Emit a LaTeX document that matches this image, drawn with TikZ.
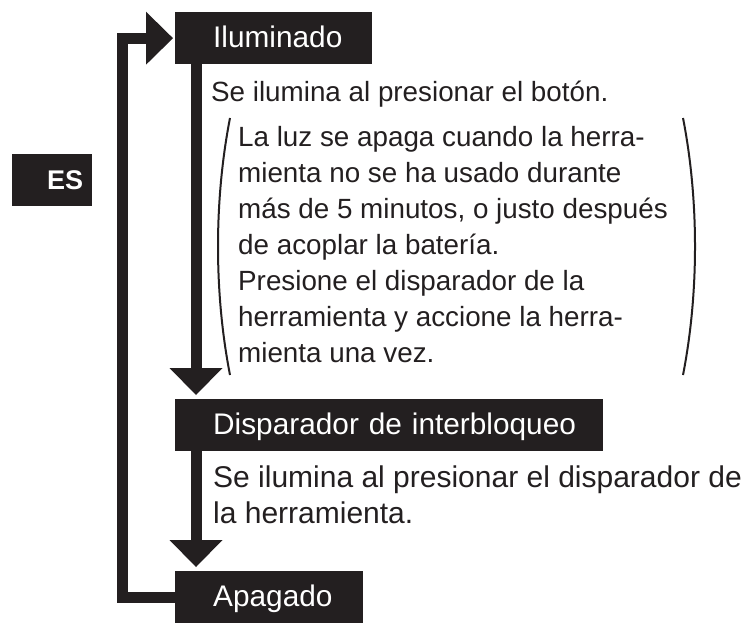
\documentclass[tikz,border=0pt]{standalone}
\usepackage{fontspec}
\setmainfont{Liberation Sans}
\usetikzlibrary{arrows.meta}
\definecolor{tinta}{HTML}{231F20}

\begin{document}
\begin{tikzpicture}[x=1pt,y=-1pt,
  caja/.style={fill=tinta,text=white,anchor=north west,inner sep=0pt,
    minimum height=52pt,text height=21pt,text depth=2pt,text width=#1,
    align=left,font=\fontsize{29.8}{36}\selectfont},
  texto/.style={inner sep=0pt,text=tinta,align=left,
    font=\fontsize{27.8}{36}\selectfont},
  flecha/.style={line width=11pt,draw=tinta,
    -{Triangle[length=27pt,width=53pt,line width=0pt]}},
  paren/.style={line width=2pt,draw=tinta}]
\useasboundingbox (0,0) rectangle (743,623);
\node [caja=80pt,align=right,font=\fontsize{27}{30}\selectfont\bfseries] (es) at (12,154) {ES\hspace*{9pt}};
\node [caja=197pt] (ilum) at (175,12) {\hspace*{38pt}Iluminado};
\node [caja=428pt] (disp) at (175,399) {\hspace*{38pt}Disparador de interbloqueo};
\node [caja=188pt] (apag) at (175,571) {\hspace*{38pt}Apagado};
\node [texto,anchor=base west] (ilumtxt) at (211,102) {Se ilumina al presionar el botón.};
\node [texto,anchor=north west] (nota) at (238,126) {La luz se apaga cuando la herra-\\mienta no se ha usado durante\\más de 5 minutos, o justo después\\de acoplar la batería.\\Presione el disparador de la\\herramienta y accione la herra-\\mienta una vez.};
\node [texto,anchor=north west,font=\fontsize{30}{36}\selectfont] (disptxt) at (213,466) {Se ilumina al presionar el disparador de\\la herramienta.};
\draw [paren] (230,118) .. controls (214,200) and (214,293) .. (230,375);
\draw [paren] (683,118) .. controls (699,200) and (699,293) .. (683,375);
\draw [flecha,shorten >=4pt] ([xshift=21pt]ilum.south west) -- ([xshift=21pt]disp.north west);
\draw [flecha,shorten >=4pt] ([xshift=21pt]disp.south west) -- ([xshift=21pt]apag.north west);
\draw [flecha,shorten >=2pt] (apag.west) -- ++(-53,0) |- (ilum.west);
\end{tikzpicture}
\end{document}
